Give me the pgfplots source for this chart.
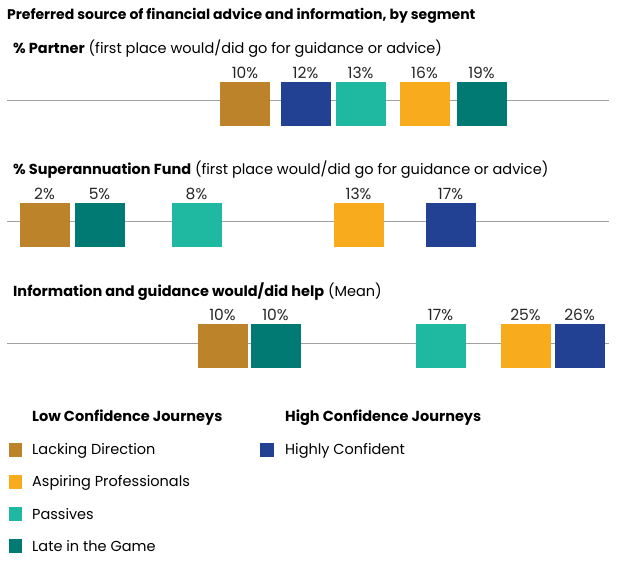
\documentclass[border=0pt]{standalone}
\usepackage{pgfplots}
\pgfplotsset{compat=1.18}
\usepackage{fontspec}
\setmainfont{Poppins}
\definecolor{cLD}{HTML}{BC832B}
\definecolor{cHC}{HTML}{224193}
\definecolor{cPA}{HTML}{1FB8A0}
\definecolor{cAP}{HTML}{F9AB1E}
\definecolor{cLG}{HTML}{007A72}
\definecolor{cLine}{HTML}{A0A0A0}
\begin{document}
\begin{tikzpicture}
\begin{axis}[
  scale only axis, width=617pt, height=560pt,
  xmin=0, xmax=617, ymin=0, ymax=560, y dir=reverse,
  hide axis, clip=false,
  every axis plot/.append style={only marks, mark=square*, mark size=24.5pt},
  nodes near coords, point meta=explicit symbolic,
  every node near coord/.append style={anchor=base, yshift=25pt, font=\fontsize{15.5}{17}\selectfont, text=black!85, inner sep=0pt},
]
% baselines
\addplot[no marks, sharp plot, draw=cLine, line width=1pt, nodes near coords={}] coordinates {(7,100) (609,100)};
\addplot[no marks, sharp plot, draw=cLine, line width=1pt, nodes near coords={}] coordinates {(7,221) (609,221)};
\addplot[no marks, sharp plot, draw=cLine, line width=1pt, nodes near coords={}] coordinates {(7,343) (609,343)};
% Lacking Direction
\addplot[color=cLD, fill=cLD, mark options={yscale=0.878}] table[meta=v] {
x y v
245 103.5 10\%
44.5 224.5 2\%
222.5 345.5 10\%
};
% Highly Confident
\addplot[color=cHC, fill=cHC, mark options={yscale=0.878}] table[meta=v] {
x y v
305.5 103.5 12\%
450.5 224.5 17\%
579.5 345.5 26\%
};
% Passives
\addplot[color=cPA, fill=cPA, mark options={yscale=0.878}] table[meta=v] {
x y v
360.5 103.5 13\%
196.5 224.5 8\%
440.5 345.5 17\%
};
% Aspiring Professionals
\addplot[color=cAP, fill=cAP, mark options={yscale=0.878}] table[meta=v] {
x y v
424.5 103.5 16\%
358.5 224.5 13\%
525.5 345.5 25\%
};
% Late in the Game
\addplot[color=cLG, fill=cLG, mark options={yscale=0.878}] table[meta=v] {
x y v
481.5 103.5 19\%
99.5 224.5 5\%
275.5 345.5 10\%
};
% legend squares
\addplot[mark size=6.4pt, color=cLD, fill=cLD, nodes near coords={}] coordinates {(15.2,449.5)};
\addplot[mark size=6.4pt, color=cAP, fill=cAP, nodes near coords={}] coordinates {(15.2,481.5)};
\addplot[mark size=6.4pt, color=cPA, fill=cPA, nodes near coords={}] coordinates {(15.2,513.5)};
\addplot[mark size=6.4pt, color=cLG, fill=cLG, nodes near coords={}] coordinates {(15.2,545.5)};
\addplot[mark size=6.4pt, color=cHC, fill=cHC, nodes near coords={}] coordinates {(267,449.5)};
% texts
\node[anchor=west, inner sep=0pt, font=\fontsize{14}{16}\selectfont\bfseries] at (axis cs:7,15.5) {Preferred source of financial advice and information, by segment};
\node[anchor=west, inner sep=0pt, font=\fontsize{14.5}{17}\selectfont] at (axis cs:13,48.5) {\textbf{\% Partner} (first place would/did go for guidance or advice)};
\node[anchor=west, inner sep=0pt, font=\fontsize{14.5}{17}\selectfont] at (axis cs:13,169.5) {\textbf{\% Superannuation Fund} (first place would/did go for guidance or advice)};
\node[anchor=west, inner sep=0pt, font=\fontsize{14.5}{17}\selectfont] at (axis cs:13,291.5) {\textbf{Information and guidance would/did help} (Mean)};
\node[anchor=west, inner sep=0pt, font=\fontsize{14.5}{17}\selectfont\bfseries] at (axis cs:32,417.5) {Low Confidence Journeys};
\node[anchor=west, inner sep=0pt, font=\fontsize{14.5}{17}\selectfont\bfseries] at (axis cs:285,417.5) {High Confidence Journeys};
\node[anchor=west, inner sep=0pt, font=\fontsize{14.5}{17}\selectfont] at (axis cs:32,450.5) {Lacking Direction};
\node[anchor=west, inner sep=0pt, font=\fontsize{14.5}{17}\selectfont] at (axis cs:32,482.5) {Aspiring Professionals};
\node[anchor=west, inner sep=0pt, font=\fontsize{14.5}{17}\selectfont] at (axis cs:32,514.5) {Passives};
\node[anchor=west, inner sep=0pt, font=\fontsize{14.5}{17}\selectfont] at (axis cs:32,546.5) {Late in the Game};
\node[anchor=west, inner sep=0pt, font=\fontsize{14.5}{17}\selectfont] at (axis cs:285,450.5) {Highly Confident};
\end{axis}
\pgfresetboundingbox
\path (current axis.south west) rectangle (current axis.north east);
\end{tikzpicture}
\end{document}
